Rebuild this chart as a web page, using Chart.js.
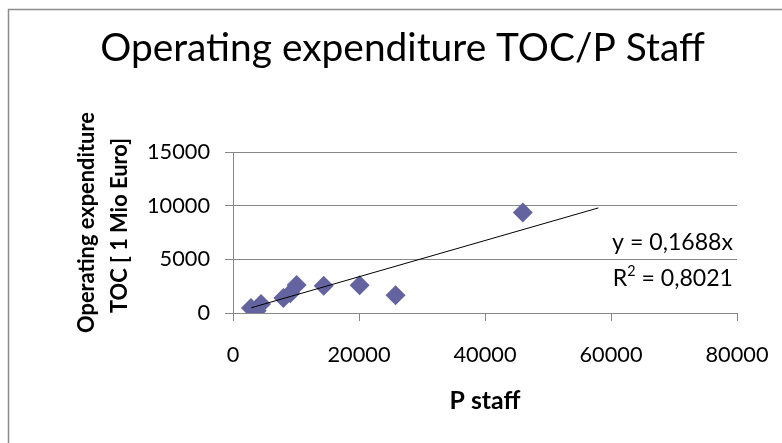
<!DOCTYPE html>
<html>
<head>
<meta charset="utf-8">
<script src="https://cdn.jsdelivr.net/npm/chart.js@4/dist/chart.umd.min.js"></script>
<style>
html,body{margin:0;padding:0;background:#fff;overflow:hidden}
#wrap{position:relative;width:782px;height:443px}
</style>
</head>
<body>
<div id="wrap"><canvas id="c" width="782" height="443"></canvas></div>
<script>
// ---- data ----
const staffX = [2850, 3750, 4450, 8000, 9100, 10100, 14400, 20100, 25800, 46000];
const opexY  = [460, 200, 830, 1390, 1850, 2620, 2550, 2580, 1650, 9370];
const trendX = [2900, 58000];
const trendY = [490, 9790];
const xTickValues = [0, 20000, 40000, 60000, 80000];
const yTickValues = [0, 5000, 10000, 15000];
const chartTitle = 'Operating expenditure TOC/P Staff';
const xAxisTitle = 'P staff';
const yAxisTitle = ['Operating expenditure', 'TOC [ 1 Mio Euro]'];
const eqText = 'y = 0,1688x';
const r2Label = 'R';
const r2Sup = '2';
const r2Value = ' = 0,8021';

const FAMILY = 'Lato';
const markerColor = '#63649f';
const gridColor = '#878787';

function fitSize(text, weight, target) {
  const c = document.createElement('canvas').getContext('2d');
  c.font = weight + ' 100px ' + FAMILY;
  return 100 * target / c.measureText(text).width;
}

function build() {
  const titleSize = fitSize(chartTitle, 'normal', 605);
  const tickSize = fitSize('80000', 'normal', 63);
  const eqSize = fitSize(eqText, 'normal', 121);
  const xtSize = fitSize(xAxisTitle, 'bold', 71);
  const ytSize = fitSize(yAxisTitle[0], 'bold', 221);

  const frame = {
    id: 'frame',
    beforeDraw(chart) {
      const ctx = chart.ctx;
      ctx.save();
      ctx.fillStyle = '#fff';
      ctx.fillRect(0, 0, chart.width, chart.height);
      ctx.strokeStyle = '#8c8c8c';
      ctx.lineWidth = 1.5;
      ctx.strokeRect(8.5, 9.5, 1000, 1000);
      ctx.restore();
    }
  };

  // y-axis title (two bold rotated lines), placed beside the y scale
  const yTitlePlugin = {
    id: 'yTitle',
    afterDraw(chart) {
      const ctx = chart.ctx;
      const a = chart.chartArea;
      const cy = (a.top + a.bottom) / 2;
      ctx.save();
      ctx.fillStyle = '#000';
      ctx.font = 'bold ' + ytSize + 'px ' + FAMILY;
      ctx.textAlign = 'center';
      ctx.textBaseline = 'middle';
      const lines = [[87, cy - 10], [120, cy - 7]];
      yAxisTitle.forEach((t, i) => {
        ctx.save();
        ctx.translate(lines[i][0], lines[i][1]);
        ctx.rotate(-Math.PI / 2);
        ctx.fillText(t, 0, 0);
        ctx.restore();
      });
      ctx.restore();
    }
  };

  const equation = {
    id: 'equation',
    afterDraw(chart) {
      const ctx = chart.ctx;
      const a = chart.chartArea;
      const right = a.right - 4;
      ctx.save();
      ctx.fillStyle = '#000';
      ctx.textBaseline = 'alphabetic';
      ctx.font = eqSize + 'px ' + FAMILY;
      ctx.textAlign = 'right';
      ctx.fillText(eqText, right, a.top + 98);
      const base2 = a.top + 134;
      const wVal = ctx.measureText(r2Value).width;
      ctx.fillText(r2Value, right, base2);
      ctx.font = (eqSize * 0.62) + 'px ' + FAMILY;
      const wSup = ctx.measureText(r2Sup).width;
      ctx.fillText(r2Sup, right - wVal, base2 - eqSize * 0.42);
      ctx.font = eqSize + 'px ' + FAMILY;
      ctx.fillText(r2Label, right - wVal - wSup, base2);
      ctx.restore();
    }
  };

  const points = staffX.map((x, i) => ({x: x, y: opexY[i]}));
  const trend = trendX.map((x, i) => ({x: x, y: trendY[i]}));

  new Chart(document.getElementById('c'), {
    type: 'scatter',
    data: {
      datasets: [
        {
          label: 'Operating expenditure',
          data: points,
          pointStyle: 'rectRot',
          pointRadius: 10,
          pointHoverRadius: 10,
          backgroundColor: markerColor,
          borderColor: markerColor,
          borderWidth: 0,
          order: 2
        },
        {
          type: 'line',
          label: 'Trend',
          data: trend,
          borderColor: '#000',
          borderWidth: 1,
          pointRadius: 0,
          fill: false,
          showLine: true,
          order: 1
        }
      ]
    },
    options: {
      responsive: false,
      animation: false,
      events: [],
      layout: {padding: {left: 23, right: 0, top: 0, bottom: 0}},
      plugins: {
        legend: {display: false},
        tooltip: {enabled: false},
        title: {
          display: true,
          text: chartTitle,
          color: '#000',
          font: {family: FAMILY, size: titleSize, weight: 'normal', lineHeight: 1},
          padding: {top: 48 - titleSize / 2, bottom: 152 - (48 - titleSize / 2) - titleSize}
        }
      },
      scales: {
        x: {
          type: 'linear',
          min: 0, max: 80000,
          afterBuildTicks(s) { s.ticks = xTickValues.map(v => ({value: v})); },
          afterFit(s) { s.height = 130; s.paddingRight = 45; },
          ticks: {
            color: '#000',
            font: {family: FAMILY, size: tickSize},
            padding: 34 - 0.6 * tickSize,
            maxRotation: 0,
            callback: v => String(v)
          },
          grid: {drawOnChartArea: false, drawTicks: true, tickLength: 8, color: gridColor, lineWidth: 1},
          border: {display: true, color: gridColor, width: 1},
          title: {
            display: true,
            text: xAxisTitle,
            color: '#000',
            font: {family: FAMILY, size: xtSize, weight: 'bold', lineHeight: 1.2},
            padding: {top: 0, bottom: 42 - xtSize * 0.6}
          }
        },
        y: {
          min: 0, max: 15000,
          afterBuildTicks(s) { s.ticks = yTickValues.map(v => ({value: v})); },
          afterFit(s) { s.width = 210; },
          ticks: {
            color: '#000',
            font: {family: FAMILY, size: tickSize},
            padding: 15,
            callback: v => String(v)
          },
          grid: {color: gridColor, lineWidth: 1, tickLength: 8, drawTicks: true},
          border: {display: true, color: gridColor, width: 1},
          title: {display: false}
        }
      }
    },
    plugins: [frame, yTitlePlugin, equation]
  });
}

if (document.fonts && document.fonts.load) {
  Promise.all([
    document.fonts.load('20px Lato'),
    document.fonts.load('bold 20px Lato')
  ]).then(build, build);
} else {
  build();
}
</script>
</body>
</html>
